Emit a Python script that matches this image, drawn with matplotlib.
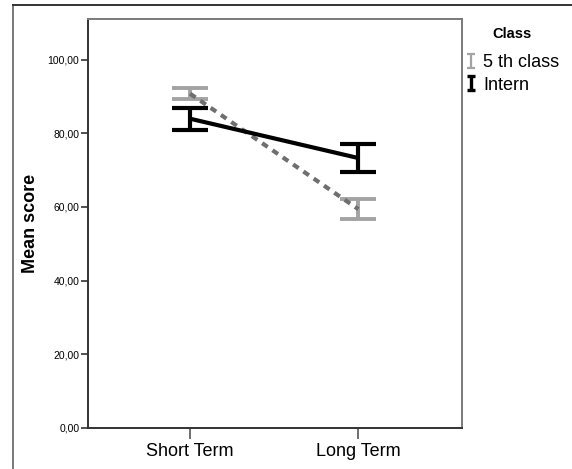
import matplotlib
matplotlib.use("Agg")
import matplotlib.pyplot as plt
from matplotlib.lines import Line2D
from matplotlib.path import Path

plt.rcParams["font.family"] = ["Liberation Sans", "DejaVu Sans"]

# data
categories = ["Short Term", "Long Term"]
fifth_mean = [90.8, 59.4]
fifth_low = [89.3, 56.6]
fifth_high = [92.3, 62.2]
intern_mean = [84.0, 73.3]
intern_low = [81.0, 69.5]
intern_high = [87.0, 77.2]
series_names = ["5 th class", "Intern"]
y_ticks = [0, 20, 40, 60, 80, 100]
y_tick_labels = ["0,00", "20,00", "40,00", "60,00", "80,00", "100,00"]

W, H = 572, 469
fig = plt.figure(figsize=(W / 100, H / 100), dpi=100)
ax = fig.add_axes([87.7 / W, 1 - 427.7 / H, (461.7 - 87.7) / W, (427.7 - 19) / H])

x = list(range(len(categories)))

light_gray = "#a3a3a3"
dash_gray = "#6f6f6f"

# error bars
fifth_err = [[m - lo for m, lo in zip(fifth_mean, fifth_low)],
             [hi - m for m, hi in zip(fifth_mean, fifth_high)]]
intern_err = [[m - lo for m, lo in zip(intern_mean, intern_low)],
              [hi - m for m, hi in zip(intern_mean, intern_high)]]

ax.errorbar(x, fifth_mean, yerr=fifth_err, fmt="none", ecolor=light_gray,
            elinewidth=2.8, capsize=13.3, capthick=2.8, zorder=2)
ax.errorbar(x, intern_mean, yerr=intern_err, fmt="none", ecolor="black",
            elinewidth=3, capsize=13.3, capthick=3, zorder=3)

# mean lines
ax.plot(x, fifth_mean, color=dash_gray, lw=3, dashes=(1.6, 1.4),
        dash_capstyle="butt", zorder=2)
ax.plot(x, intern_mean, color="black", lw=3, solid_capstyle="butt", zorder=4)

ax.set_xlim(-0.608, 1.614)
ax.set_ylim(0, 111.1)
ax.set_xticks(x)
ax.set_xticklabels(categories, fontsize=13)
ax.set_yticks(y_ticks)
ax.set_yticklabels(y_tick_labels, fontsize=7.5)
ax.tick_params(axis="y", length=5, width=1.2, pad=1, color="#333333")
ax.tick_params(axis="x", length=8, width=1.2, pad=3, color="#555555")
ax.set_ylabel("Mean score", fontsize=13, fontweight="bold", labelpad=6)

for side in ["left", "bottom"]:
    ax.spines[side].set_color("#333333")
    ax.spines[side].set_linewidth(1.4)
for side in ["top", "right"]:
    ax.spines[side].set_color("#7a7a7a")
    ax.spines[side].set_linewidth(1.4)

# legend with I-shaped glyphs
i_path = Path([(-0.27, -0.5), (0.27, -0.5), (0, -0.5), (0, 0.5), (-0.27, 0.5), (0.27, 0.5)],
              [Path.MOVETO, Path.LINETO, Path.MOVETO, Path.LINETO, Path.MOVETO, Path.LINETO])
handles = [
    Line2D([], [], ls="none", marker=i_path, markersize=9.5, markeredgewidth=1.6,
           markerfacecolor="none", markeredgecolor=light_gray),
    Line2D([], [], ls="none", marker=i_path, markersize=9.5, markeredgewidth=2.4,
           markerfacecolor="none", markeredgecolor="black"),
]
fig.text(512 / W, 1 - 34 / H, "Class", fontsize=10.5, fontweight="bold",
         ha="center", va="center")
leg = fig.legend(handles, series_names, loc="upper left",
                 bbox_to_anchor=(466 / W, 1 - 54 / H), frameon=False,
                 fontsize=13, handlelength=0.5, handletextpad=0.45, labelspacing=0.32,
                 borderpad=0, borderaxespad=0)

# outer frame (left and top edges visible)
fig.add_artist(Line2D([12.7 / W, 12.7 / W], [0, 1 - 5 / H], transform=fig.transFigure,
                      color="#7a7a7a", lw=1.4))
fig.add_artist(Line2D([12.7 / W, 1], [1 - 5 / H, 1 - 5 / H], transform=fig.transFigure,
                      color="#333333", lw=1.4))

fig.savefig("out.png", dpi=100)
plt.close(fig)
